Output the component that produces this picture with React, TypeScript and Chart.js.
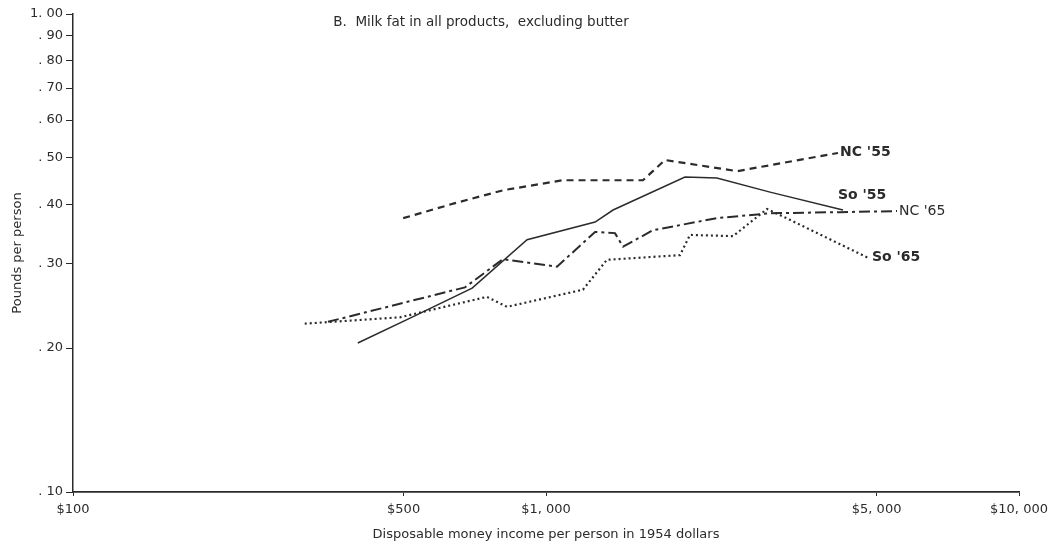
import React, { useEffect, useRef } from "react";
import { Chart, registerables } from "chart.js";

Chart.register(...registerables);

// Disposable income per person (1954 dollars) and milk fat (pounds per person)
const nc55Income = [499, 642, 813, 1086, 1603, 1785, 2535, 4143];
const nc55Fat = [0.374, 0.402, 0.428, 0.449, 0.449, 0.495, 0.469, 0.512];

const so55Income = [400, 516, 698, 912, 1270, 1386, 1967, 2298, 2976, 4245];
const so55Fat = [0.205, 0.231, 0.267, 0.337, 0.367, 0.389, 0.456, 0.454, 0.424, 0.389];

const nc65Income = [346, 674, 811, 1055, 1270, 1399, 1455, 1684, 2298, 2976, 4184, 5522];
const nc65Fat = [0.227, 0.268, 0.307, 0.296, 0.35, 0.348, 0.326, 0.353, 0.374, 0.383, 0.385, 0.387];

const so65Income = [309, 491, 750, 827, 1197, 1345, 1920, 2016, 2486, 2933, 3279, 4795];
const so65Fat = [0.225, 0.232, 0.256, 0.244, 0.265, 0.306, 0.313, 0.345, 0.343, 0.391, 0.371, 0.309];

const seriesNames = ["NC '55", "So '55", "NC '65", "So '65"];

const xTickValues = [100, 500, 1000, 5000, 10000];
const xTickLabels = ["$100", "$500", "$1, 000", "$5, 000", "$10, 000"];
const yTickValues = [0.1, 0.2, 0.3, 0.4, 0.5, 0.6, 0.7, 0.8, 0.9, 1.0];
const yTickLabels = [". 10", ". 20", ". 30", ". 40", ". 50", ". 60", ". 70", ". 80", ". 90", "1. 00"];

const chartTitle = "B.  Milk fat in all products,  excluding butter";
const xTitle = "Disposable money income per person in 1954 dollars";
const yTitle = "Pounds per person";

const FONT = "'DejaVu Sans', sans-serif";
const INK = "#2b2b2b";

const toPoints = (xs: number[], ys: number[]) => xs.map((x, i) => ({ x, y: ys[i] }));

// Series label placement relative to each line's last point
const labelOffsets = [
  { dx: 2, dy: -1 },
  { dx: -5, dy: -15 },
  { dx: 2, dy: 0 },
  { dx: 4, dy: 0 },
];
const labelWeights = ["bold", "bold", "normal", "bold"];

const seriesLabelPlugin = {
  id: "seriesLabels",
  afterDatasetsDraw(chart: any) {
    const ctx = chart.ctx;
    ctx.save();
    ctx.fillStyle = INK;
    ctx.textBaseline = "middle";
    ctx.textAlign = "left";
    chart.data.datasets.forEach((ds: any, i: number) => {
      const meta = chart.getDatasetMeta(i);
      const last = meta.data[meta.data.length - 1];
      if (!last) return;
      ctx.font = `${labelWeights[i]} 14px ${FONT}`;
      ctx.fillText(ds.label, last.x + labelOffsets[i].dx, last.y + labelOffsets[i].dy);
    });
    ctx.restore();
  },
};

const titlePlugin = {
  id: "topTitle",
  afterDraw(chart: any) {
    const ctx = chart.ctx;
    ctx.save();
    ctx.fillStyle = INK;
    ctx.font = `13.5px ${FONT}`;
    ctx.textAlign = "center";
    ctx.textBaseline = "middle";
    ctx.fillText(chartTitle, 481, 22);
    ctx.restore();
  },
};

export default function App() {
  const canvasRef = useRef<HTMLCanvasElement | null>(null);

  useEffect(() => {
    if (!canvasRef.current) return;
    const common = { pointRadius: 0, fill: false, tension: 0, borderColor: INK };
    const chart = new Chart(canvasRef.current, {
      type: "line",
      data: {
        datasets: [
          { ...common, label: seriesNames[0], data: toPoints(nc55Income, nc55Fat), borderWidth: 2.2, borderDash: [7, 5] },
          { ...common, label: seriesNames[1], data: toPoints(so55Income, so55Fat), borderWidth: 1.5 },
          { ...common, label: seriesNames[2], data: toPoints(nc65Income, nc65Fat), borderWidth: 2, borderDash: [11, 4, 3, 4] },
          { ...common, label: seriesNames[3], data: toPoints(so65Income, so65Fat), borderWidth: 2.2, borderDash: [2, 3] },
        ],
      },
      options: {
        animation: false,
        responsive: true,
        maintainAspectRatio: false,
        layout: { padding: { left: 0, top: 14, right: 33, bottom: 0 } },
        plugins: {
          legend: { display: false },
          tooltip: { enabled: false },
          title: { display: false },
        },
        scales: {
          x: {
            type: "logarithmic",
            min: 100,
            max: 10000,
            afterBuildTicks: (scale: any) => {
              scale.ticks = xTickValues.map((v) => ({ value: v }));
            },
            afterFit: (scale: any) => {
              scale.height = 59;
              scale.paddingLeft = 0;
              scale.paddingRight = 0;
            },
            ticks: {
              autoSkip: false,
              maxRotation: 0,
              padding: 6,
              color: INK,
              font: { family: FONT, size: 13 },
              callback: (_v: any, i: number) => xTickLabels[i],
            },
            grid: { drawOnChartArea: false, drawTicks: true, tickLength: 4, color: INK, lineWidth: 1 },
            border: { display: true, color: INK, width: 1.8 },
            title: {
              display: true,
              text: xTitle,
              color: INK,
              font: { family: FONT, size: 13 },
              padding: { top: 0, bottom: 9 },
            },
          },
          y: {
            type: "logarithmic",
            min: 0.1,
            max: 1.0,
            afterBuildTicks: (scale: any) => {
              scale.ticks = yTickValues.map((v) => ({ value: v }));
            },
            afterFit: (scale: any) => {
              scale.width = 73;
              scale.paddingTop = 0;
              scale.paddingBottom = 0;
            },
            ticks: {
              autoSkip: false,
              padding: 3,
              color: INK,
              font: { family: FONT, size: 13 },
              callback: (_v: any, i: number) => yTickLabels[i],
            },
            grid: { drawOnChartArea: false, drawTicks: true, tickLength: 7, color: INK, lineWidth: 1 },
            border: { display: true, color: INK, width: 1.5 },
            title: {
              display: true,
              text: yTitle,
              color: INK,
              font: { family: FONT, size: 13 },
              padding: { top: 10, bottom: 0 },
            },
          },
        },
      },
      plugins: [seriesLabelPlugin, titlePlugin],
    } as any);
    return () => chart.destroy();
  }, []);

  return (
    <div style={{ position: "absolute", left: 0, top: 0, width: 1052, height: 551, background: "#fff" }}>
      <canvas ref={canvasRef} />
    </div>
  );
}
